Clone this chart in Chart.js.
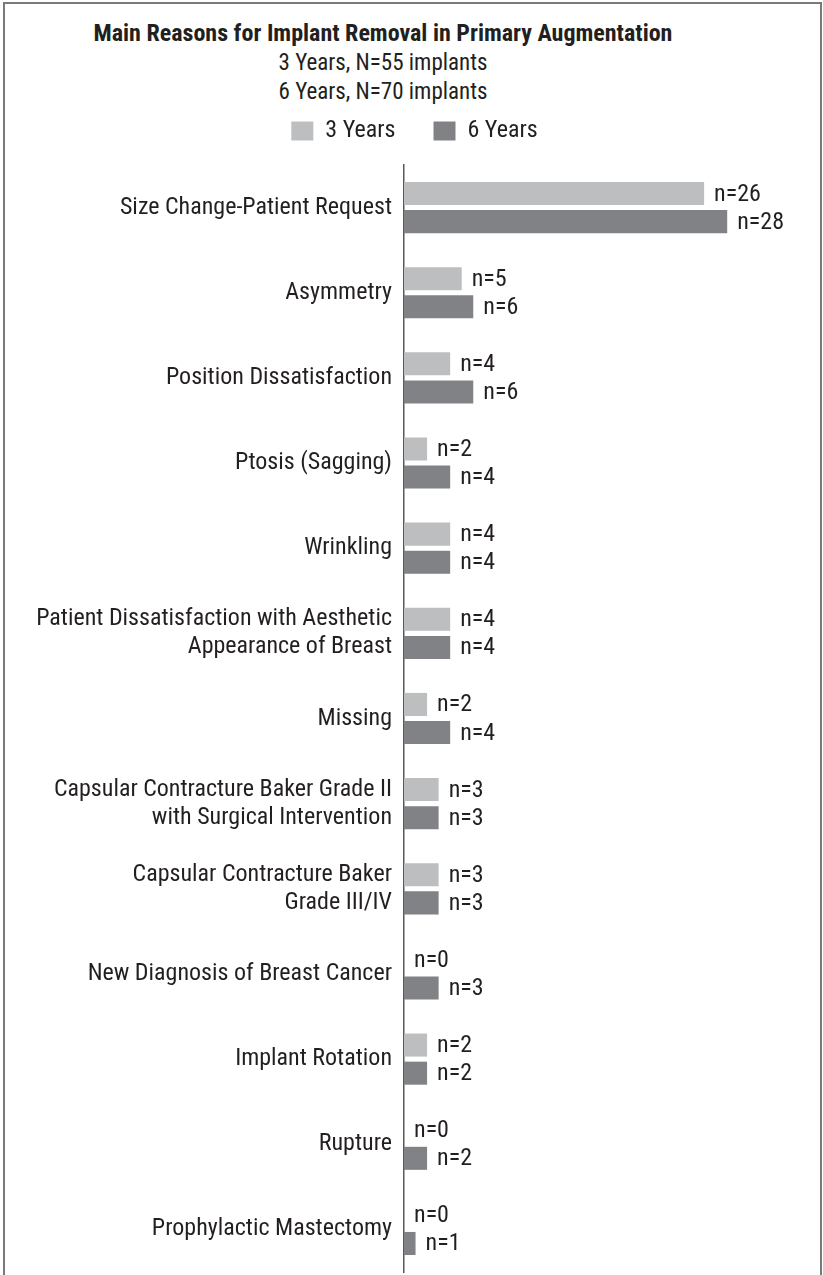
<!DOCTYPE html>
<html>
<head>
<meta charset="utf-8">
<script src="https://cdn.jsdelivr.net/npm/chart.js@4.4.1/dist/chart.umd.min.js"></script>
<style>
  body { margin: 0; background: #fff; }
  #frame { position: absolute; left: 3px; top: 2px; width: 815px; height: 1300px;
           border: 2px solid #7a7a7a; border-bottom: none; }
  #head { position: absolute; left: 0; top: 19px; width: 766px; text-align: center;
          font-family: "Roboto Condensed", sans-serif;
          color: #231f20; font-size: 23px; line-height: 29px; }
  #head b { font-weight: 700; font-size: 24px; }
  canvas { position: absolute; left: 0; top: 0; }
</style>
</head>
<body>
<div id="frame"></div>
<div id="head">
  <b>Main Reasons for Implant Removal in Primary Augmentation</b><br>
  3 Years, N=55 implants<br>
  6 Years, N=70 implants
</div>
<canvas id="chart" width="823" height="1275"></canvas>
<script>
const reasons = [
  'Size Change-Patient Request',
  'Asymmetry',
  'Position Dissatisfaction',
  'Ptosis (Sagging)',
  'Wrinkling',
  ['Patient Dissatisfaction with Aesthetic', 'Appearance of Breast'],
  'Missing',
  ['Capsular Contracture Baker Grade II', 'with Surgical Intervention'],
  ['Capsular Contracture Baker', 'Grade III/IV'],
  'New Diagnosis of Breast Cancer',
  'Implant Rotation',
  'Rupture',
  'Prophylactic Mastectomy'
];
const years3 = [26, 5, 4, 2, 4, 4, 2, 3, 3, 0, 2, 0, 0];
const years6 = [28, 6, 6, 4, 4, 4, 4, 3, 3, 3, 2, 2, 1];

const fontFamily = '"Roboto Condensed", sans-serif';
const textColor = '#231f20';
const fontSize = 24;

// writes "n=.." just past the end of each bar
const barLabels = {
  id: 'barLabels',
  afterDatasetsDraw(chart) {
    const ctx = chart.ctx;
    ctx.save();
    ctx.font = fontSize + 'px ' + fontFamily;
    ctx.fillStyle = textColor;
    ctx.textBaseline = 'middle';
    chart.data.datasets.forEach((ds, i) => {
      chart.getDatasetMeta(i).data.forEach((bar, j) => {
        ctx.fillText('n=' + ds.data[j], bar.x + 10, bar.y + 1);
      });
    });
    ctx.restore();
  }
};

new Chart(document.getElementById('chart'), {
  type: 'bar',
  data: {
    labels: reasons,
    datasets: [
      { label: '3 Years', data: years3, backgroundColor: '#bcbec0' },
      { label: '6 Years', data: years6, backgroundColor: '#808285' }
    ]
  },
  options: {
    indexAxis: 'y',
    responsive: false,
    animation: false,
    devicePixelRatio: 1,
    categoryPercentage: 0.66,
    barPercentage: 0.82,
    layout: { padding: { top: 81, right: 15, bottom: 3, left: 21 } },
    plugins: {
      tooltip: { enabled: false },
      legend: {
        labels: {
          boxWidth: 22,
          boxHeight: 19,
          padding: 38,
          color: textColor,
          font: { family: fontFamily, size: fontSize }
        }
      }
    },
    scales: {
      x: {
        position: 'top',
        min: 0,
        max: 35,
        grid: { display: false, drawTicks: false },
        border: { display: false },
        ticks: { display: false },
        // empty gap between the legend and the first bars
        afterFit(scale) { scale.height = 12; }
      },
      y: {
        afterFit(scale) {
          scale.width = 383;
          scale.paddingTop = 0;
          scale.paddingBottom = 0;
        },
        grid: { display: false, drawTicks: false },
        border: { color: '#58595b', width: 1.5 },
        ticks: {
          padding: 12,
          color: textColor,
          font: { family: fontFamily, size: fontSize, lineHeight: 1.17 }
        }
      }
    }
  },
  plugins: [barLabels]
});
</script>
</body>
</html>
